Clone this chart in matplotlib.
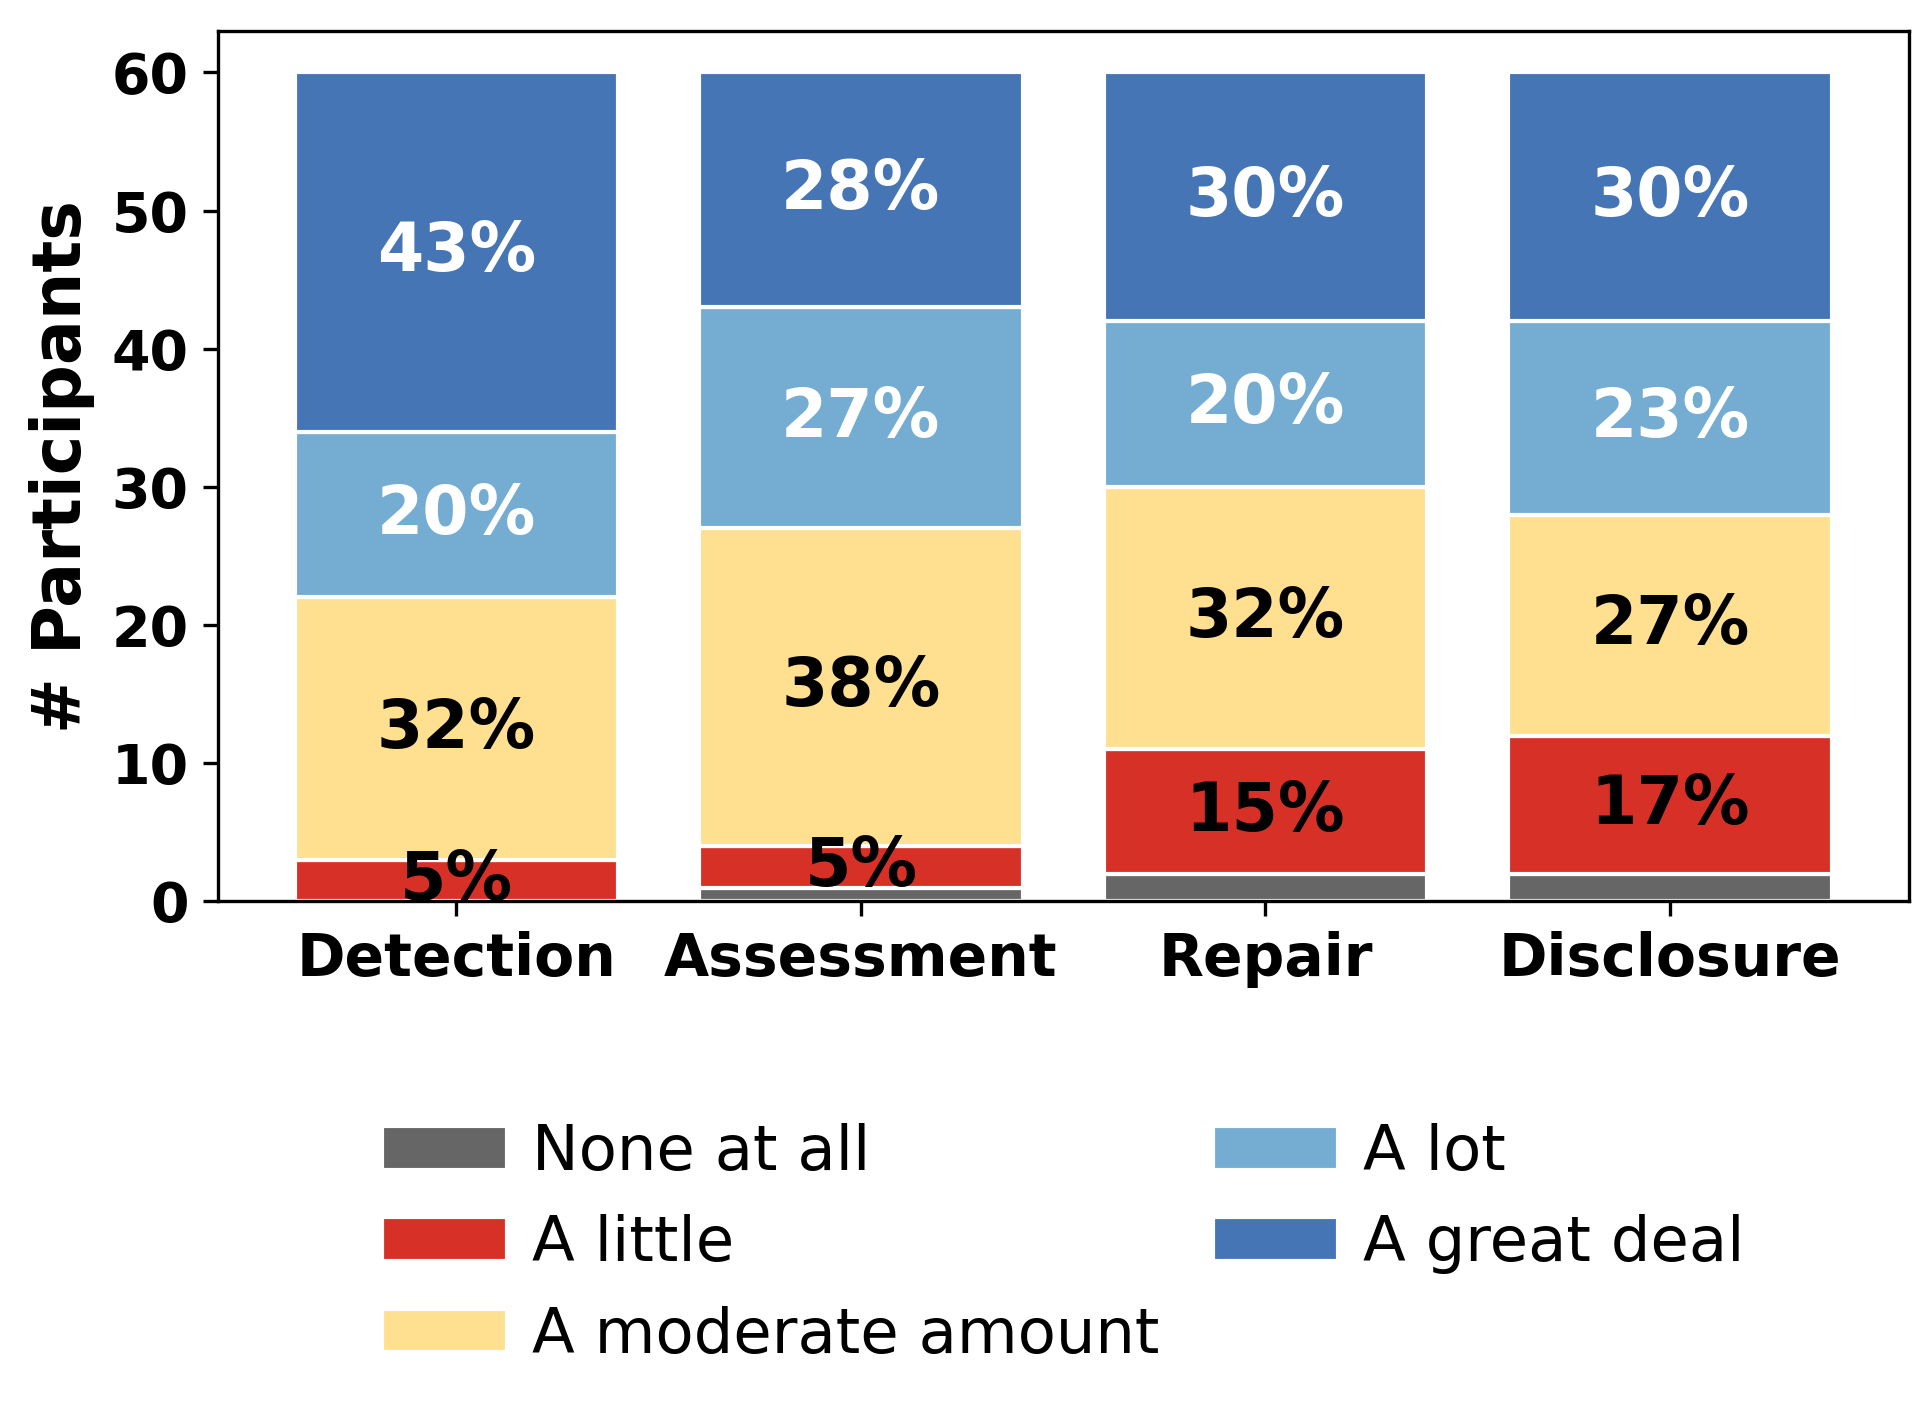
import numpy as np
import matplotlib.pyplot as plt

# Stacked bar chart of participant responses per stage

stages = ['Detection', 'Assessment', 'Repair', 'Disclosure']
levels = ['None at all', 'A little', 'A moderate amount', 'A lot', 'A great deal']
colors = ['#666666', '#d73027', '#fee090', '#74add1', '#4575b4']
text_colors = ['black', 'black', 'black', 'white', 'white']

none_at_all = [0, 1, 2, 2]
a_little = [3, 3, 9, 10]
moderate = [19, 23, 19, 16]
a_lot = [12, 16, 12, 14]
great_deal = [26, 17, 18, 18]

counts = [none_at_all, a_little, moderate, a_lot, great_deal]
total = 60

fig = plt.figure(figsize=(6.42, 4.717), dpi=300)
ax = fig.add_axes([0.113, 0.363, 0.878, 0.615])

x = np.arange(len(stages))
bottom = np.zeros(len(stages))
for vals, lab, col, tcol in zip(counts, levels, colors, text_colors):
    vals = np.array(vals)
    ax.bar(x, vals, 0.8, bottom=bottom, color=col, edgecolor='white', linewidth=1, label=lab)
    for xi, v, b in zip(x, vals, bottom):
        if v >= 3:
            ax.text(xi, b + v / 2, '%d%%' % round(v / total * 100), ha='center', va='center',
                    color=tcol, fontsize=16, fontweight='bold')
    bottom += vals

ax.set_xticks(x)
ax.set_xticklabels(stages, fontsize=14, fontweight='bold')
ax.set_ylabel('# Participants', fontsize=16, fontweight='bold')
for t in ax.get_yticklabels():
    t.set_fontweight('bold')
    t.set_fontsize(13.3)

ax.legend(loc='upper center', bbox_to_anchor=(0.5, -0.19), ncol=2, frameon=False,
          fontsize=15, handlelength=2.0, handletextpad=0.4, columnspacing=0.85)

plt.savefig('out.png', dpi=300)
